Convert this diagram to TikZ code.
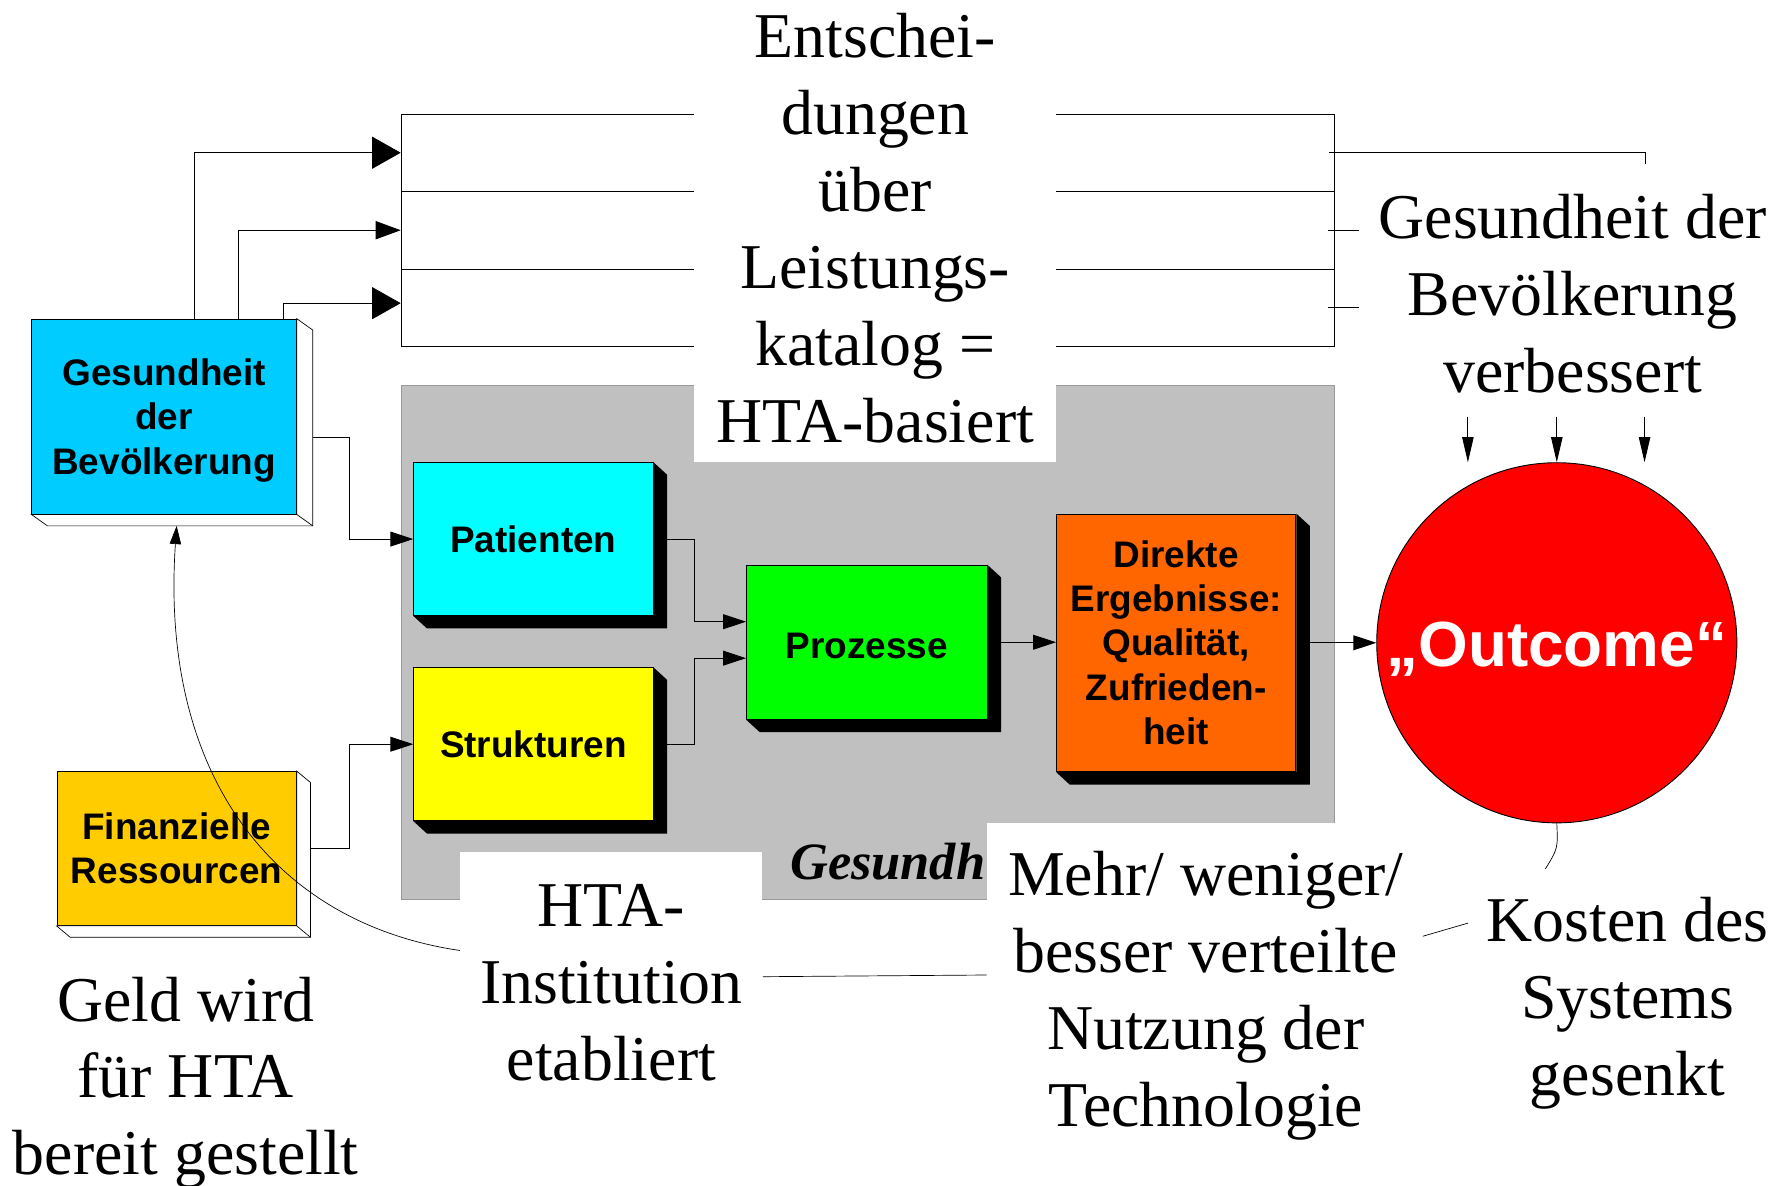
\documentclass[tikz,border=0pt]{standalone}
\usepackage{fontspec}
\setmainfont{Liberation Serif}
\setsansfont{Liberation Sans}
\usetikzlibrary{arrows.meta, calc}

\definecolor{bevcyan}{HTML}{00CCFF}
\definecolor{patcyan}{HTML}{00FFFF}
\definecolor{strukgelb}{HTML}{FFFF00}
\definecolor{prozgruen}{HTML}{00FF00}
\definecolor{ergorange}{HTML}{FF6600}
\definecolor{fingelb}{HTML}{FFCC00}
\definecolor{outrot}{HTML}{FF0000}
\definecolor{sysgrau}{HTML}{C0C0C0}

\begin{document}
\begin{tikzpicture}[x=0.5pt, y=-0.5pt,
    bbox/.style={draw, line width=0.4pt, inner sep=0pt, align=center,
                 font=\sffamily\bfseries\fontsize{16.2}{19.5}\selectfont},
    txt/.style={inner sep=0pt, align=center, font=\fontsize{28}{33.75}\selectfont},
    wbox/.style={txt, fill=white},
    row/.style={draw, line width=0.4pt, inner sep=0pt, minimum width=409.5pt, minimum height=34pt},
    arrow/.style={-{Triangle[length=10pt, width=6.5pt]}, line width=0.4pt},
    bigarrow/.style={-{Triangle[length=12.5pt, width=14pt]}, line width=0.4pt},
    midarrow/.style={-{Triangle[length=11pt, width=8pt]}, line width=0.4pt},
    downarrow/.style={-{Triangle[length=11pt, width=5pt]}, line width=0.4pt},
]
\useasboundingbox (0,0) rectangle (1568,1040);

% ===== Entscheidungs-Rahmen =====
\node[row] (row1) at (761.5,134) {};
\node[row] (row2) at (761.5,202) {};
\node[row] (row3) at (761.5,270) {};

% ===== Gesundheitssystem (grau) =====
\fill[sysgrau, draw=black!40, line width=0.3pt] (352,338) rectangle (1171,789);

% ===== weisse Textfelder =====
\node[wbox, minimum width=159pt, minimum height=205pt] (entsch) at (768,200)
    {Entschei-\\dungen\\über\\Leistungs-\\katalog =\\HTA-basiert};
\node[wbox, minimum width=132.5pt, minimum height=114pt] (hta) at (536.5,862)
    {HTA-\\Institution\\etabliert};
\node[wbox, minimum width=192pt, minimum height=151.5pt] (mehr) at (1058,873.5)
    {Mehr/ weniger/\\besser verteilte\\Nutzung der\\Technologie};
\node[inner sep=0pt, anchor=east, font=\bfseries\itshape\fontsize{23}{27}\selectfont]
    (gesundh) at (865,756) {Gesundh};

% ===== Kaesten =====
\node[bbox, fill=bevcyan, minimum width=116pt, minimum height=85.5pt, text depth=0pt] (gesbev) at (144,365.5)
    {Gesundheit\\der\\Bevölkerung};
\node[bbox, fill=fingelb, minimum width=105pt, minimum height=67.5pt] (finanz) at (155,744.5)
    {Finanzielle\\Ressourcen};
\node[bbox, fill=patcyan, minimum width=105pt, minimum height=67pt] (pat) at (468,473) {Patienten};
\node[bbox, fill=strukgelb, minimum width=105pt, minimum height=67pt] (struk) at (468,653) {Strukturen};
\node[bbox, fill=prozgruen, minimum width=105.5pt, minimum height=67.5pt] (proz) at (760.5,563.5)
    {\raisebox{-1.5pt}[\height][\depth]{Prozesse}};
\node[bbox, fill=ergorange, minimum width=105pt, minimum height=113pt] (erg) at (1032,564)
    {Direkte\\Ergebnisse:\\Qualität,\\Zufrieden-\\heit};

% 3D-Kanten und Schatten
\foreach \n/\dx/\dy in {gesbev/14/10, finanz/12/10} {
  \filldraw[fill=white, line width=0.3pt] (\n.north east) -- ++(\dx,\dy)
    -- ($(\n.south east)+(\dx,\dy)$) -- ($(\n.south west)+(\dx,\dy)$)
    -- (\n.south west) -- (\n.south east) -- cycle;
  \draw[line width=0.3pt] (\n.south east) -- ++(\dx,\dy);
}
\foreach \n in {pat,struk,proz,erg}
  \fill (\n.north east) -- ++(12,11) -- ($(\n.south east)+(12,11)$)
    -- ($(\n.south west)+(12,11)$) -- (\n.south west) -- (\n.south east) -- cycle;

\node[circle, draw, line width=0.4pt, fill=outrot, minimum size=158pt, inner sep=0pt,
      text=white, font=\sffamily\bfseries\fontsize{28}{33}\selectfont] (outcome) at (1366,564)
    {\raisebox{-3pt}[\height][\depth]{„Outcome“}};

% ===== Beschriftungen =====
\node[txt] (verb) at (1380,258) {Gesundheit der\\Bevölkerung\\verbessert};
\node[txt] (kosten) at (1428,880) {Kosten des\\Systems\\gesenkt};
\node[txt] (geld) at (163,950) {Geld wird\\für HTA\\bereit gestellt};

% ===== Verbindungen =====
\draw[bigarrow] ($(gesbev.north west)+(143,0)$) |- (row1.west);
\draw[midarrow] ($(gesbev.north west)+(182,0)$) |- (row2.west);
\draw[bigarrow] ($(gesbev.north west)+(221,0)$) |- ([yshift=2pt]row3.west);
\draw[line width=0.4pt] ([xshift=-2.5pt]row1.east) -- ++(277,0) -- ++(0,10);
\draw[line width=0.4pt] ([xshift=-3pt]row2.east) -- ++(27,0);
\draw[line width=0.4pt] ([xshift=-3pt]row3.east) -- ++(27,0);
\foreach \dx in {-78,0,77}
  \draw[downarrow] ($(outcome.north)+(\dx,-40)$) -- ($(outcome.north)+(\dx,0)$);

\draw[arrow] ($(gesbev.east)+(14,18)$) -- ++(32,0) |- (pat.west);
\draw[arrow] ($(finanz.east)+(12,0)$) -- ++(34,0) |- (struk.west);
\draw[arrow] ($(pat.east)+(12,0)$) -- ++(24,0) |- ($(proz.west)+(0,-18)$);
\draw[arrow] ($(struk.east)+(12,0)$) -- ++(24,0) |- ($(proz.west)+(0,14)$);
\draw[arrow] ($(proz.east)+(12,0)$) -- (proz.east -| erg.west);
\draw[arrow] ($(erg.east)+(12,0)$) -- (erg.east -| outcome.west);

\draw[-{Triangle[length=8pt, width=5pt]}, line width=0.3pt] ($(hta.west)+(0,-28)$)
    .. controls (240,810) and (140,680) .. ($(gesbev.south)+(11,10)$);
\draw[line width=0.3pt] ($(hta.east)+(0,-5)$) -- ($(mehr.west)+(0,-18)$);
\draw[line width=0.3pt] ($(mehr.east)+(-2,-52)$) -- ($(kosten.west)+(-16,-70)$);
\draw[line width=0.3pt] (outcome.south) .. controls ($(outcome.south)+(1,22)$) .. ($(outcome.south)+(-10,40)$);
\end{tikzpicture}
\end{document}
